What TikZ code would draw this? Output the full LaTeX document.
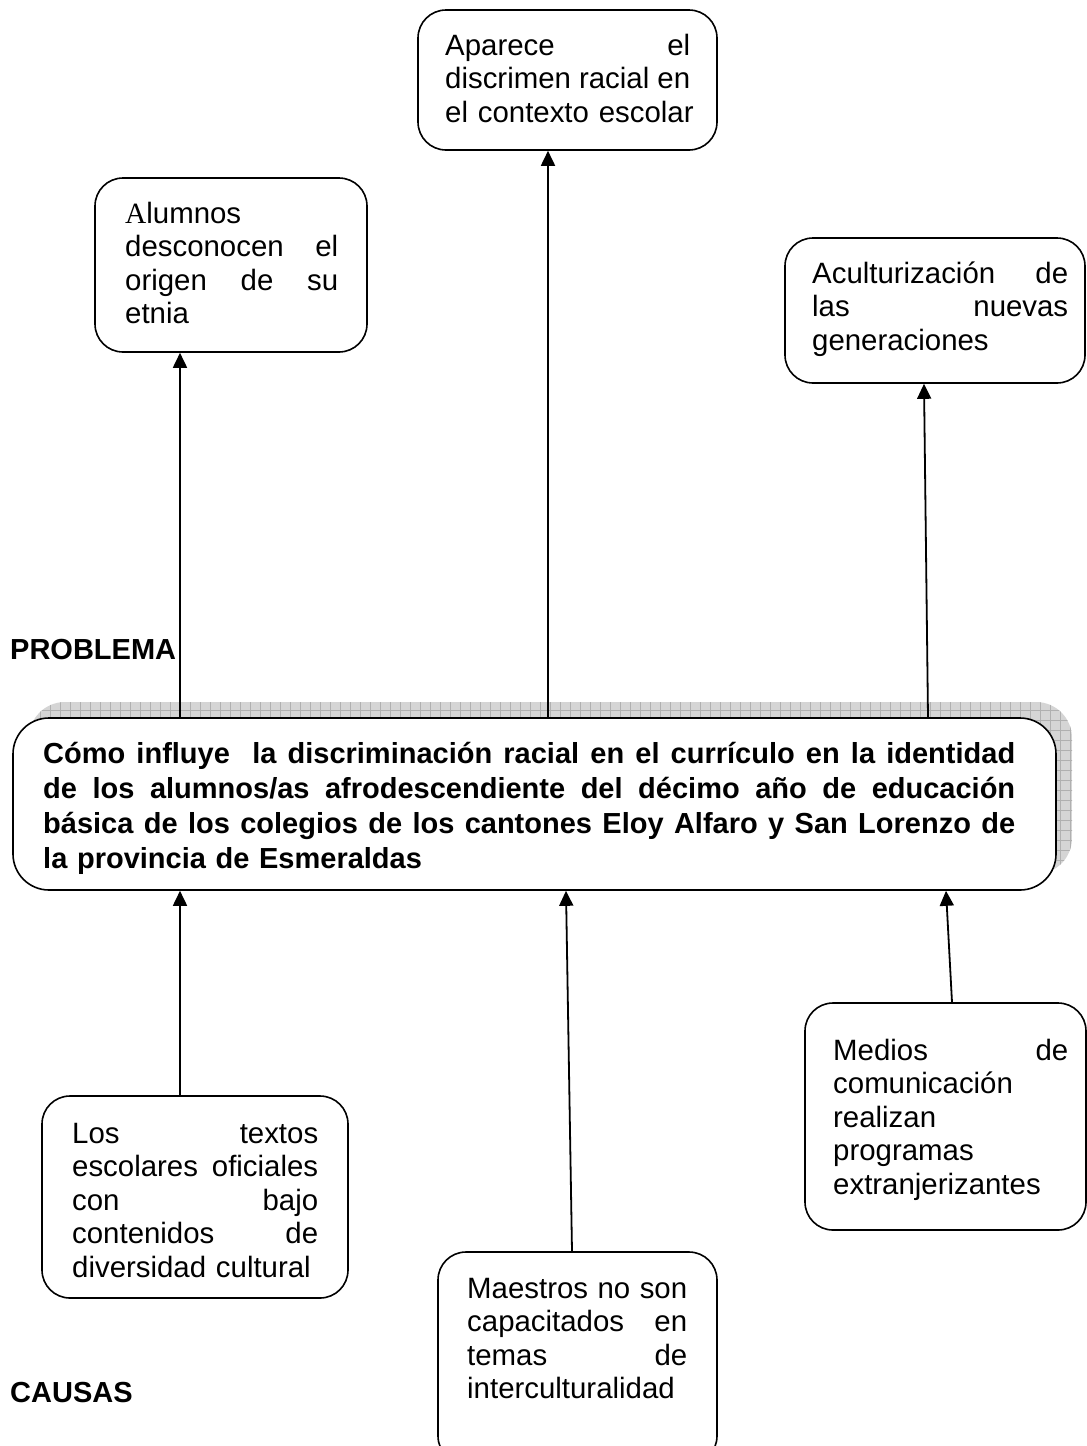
\documentclass[tikz,border=0pt]{standalone}
\usepackage{fontspec}
\setmainfont{Liberation Sans}
\newfontfamily\serifA{Liberation Serif}
\usetikzlibrary{arrows.meta}
\setlength\parindent{0pt}
\newcommand\jl[2]{\leavevmode\hbox to #1{\spaceskip=0pt\xspaceskip=0pt\relax #2}}
\begin{document}
\begin{tikzpicture}[x=1pt,y=-1pt,
  box/.style={draw, line width=1.6pt, rounded corners=28pt, fill=white, inner sep=0pt},
  txt/.style={anchor=base west, inner sep=0pt, align=left, font=\fontsize{29.4}{33.5}\selectfont},
  lab/.style={anchor=base west, inner sep=0pt, font=\fontsize{29}{35}\selectfont\bfseries},
  arr/.style={line width=1.8pt, -{Triangle[length=15pt,width=14pt]}}]
\useasboundingbox (0,0) rectangle (1087,1446);
\clip (0,0) rectangle (1087,1446);
\fill[white] (0,0) rectangle (1087,1446);

% shadow of the problem box
\begin{scope}
  \clip[rounded corners=36pt] (29,702) rectangle (1072,874);
  \fill[gray!33] (29,702) rectangle (1072,874);
  \draw[gray!62, line width=0.7pt, step=10pt] (20,690) grid (1080,880);
\end{scope}

% boxes
\node[box, rounded corners=36pt, minimum width=1043pt, minimum height=172pt] (prob) at (534.5,804) {};
\node[box, minimum width=299pt, minimum height=140pt] (A) at (567.5,80) {};
\node[box, minimum width=272pt, minimum height=174pt] (B) at (231,265) {};
\node[box, minimum width=300pt, minimum height=145pt] (C) at (935,310.5) {};
\node[box, minimum width=306pt, minimum height=202pt] (D) at (195,1197) {};
\node[box, minimum width=279pt, minimum height=212pt] (E) at (577.5,1358) {};
\node[box, minimum width=281pt, minimum height=227pt] (F) at (945.5,1116.5) {};

% texts
\node[txt, text width=270pt] (At) at (445,55)
  {\jl{245pt}{Aparece el}\\\jl{245pt}{discrimen racial en}\\el contexto escolar};
\node[txt, text width=240pt] (Bt) at (125,223)
  {{\serifA A}lumnos\\\jl{213pt}{desconocen el}\\\jl{213pt}{origen de su}\\etnia};
\node[txt, text width=270pt] (Ct) at (812,283)
  {\jl{256pt}{Aculturización de}\\\jl{256pt}{las nuevas}\\generaciones};
\node[txt, text width=270pt] (Dt) at (72,1143)
  {\jl{246pt}{Los textos}\\\jl{246pt}{escolares oficiales}\\\jl{246pt}{con bajo}\\\jl{246pt}{contenidos de}\\diversidad cultural};
\node[txt, text width=245pt] (Et) at (467,1298)
  {\jl{220pt}{Maestros no son}\\\jl{220pt}{capacitados en}\\\jl{220pt}{temas de}\\interculturalidad};
\node[txt, text width=250pt] (Ft) at (833,1060)
  {\jl{235pt}{Medios de}\\comunicación\\realizan\\programas\\extranjerizantes};
\node[lab, text width=1000pt, align=left] (probt) at (43,763)
  {\jl{972pt}{Cómo influye\ \ la discriminación racial en el currículo en la identidad}\\
   \jl{972pt}{de los alumnos/as afrodescendiente del décimo año de educación}\\
   \jl{972pt}{básica de los colegios de los cantones Eloy Alfaro y San Lorenzo de}\\
   la provincia de Esmeraldas};

\node[lab] (problema) at (10,659) {PROBLEMA};
\node[lab] (causas) at (10,1402) {CAUSAS};

% connectors
\coordinate (x1) at (180,0);
\coordinate (x2) at (548,0);
\coordinate (x3a) at (928,0);
\coordinate (x3b) at (924,0);
\coordinate (x5a) at (572,0);
\coordinate (x5b) at (566,0);
\coordinate (x6a) at (952,0);
\coordinate (x6b) at (946,0);
\draw[arr] (prob.north -| x1) -- (B.south -| x1);
\draw[arr] (prob.north -| x2) -- (A.south -| x2);
\draw[arr] (prob.north -| x3a) -- (C.south -| x3b);
\draw[arr] (D.north -| x1) -- (prob.south -| x1);
\draw[arr] (E.north -| x5a) -- (prob.south -| x5b);
\draw[arr] (F.north -| x6a) -- (prob.south -| x6b);
\end{tikzpicture}
\end{document}
